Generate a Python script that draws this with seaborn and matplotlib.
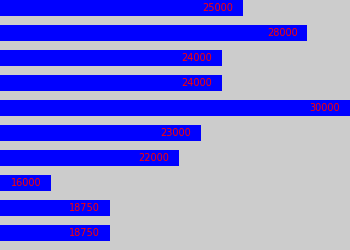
import matplotlib
matplotlib.use("Agg")
import matplotlib.pyplot as plt
import seaborn as sns
import pandas as pd

categories = ["A", "B", "C", "D", "E", "F", "G", "H", "I", "J"]
values = [25000, 28000, 24000, 24000, 30000, 23000, 22000, 16000, 18750, 18750]
labels = ["25000", "28000", "24000", "24000", "30000", "23000", "22000", "16000", "18750", "18750"]

df = pd.DataFrame({"cat": categories, "val": values})

fig = plt.figure(figsize=(3.5, 2.5), dpi=100)
fig.patch.set_facecolor("#cccccc")
ax = fig.add_axes([0, 0, 1, 1])
ax.set_facecolor("#cccccc")

sns.barplot(data=df, x="val", y="cat", orient="h", color="#0000ff",
            saturation=1, width=0.64, ax=ax)
for p in ax.patches:
    p.set_edgecolor("none")
    p.set_linewidth(0)

ax.set_xlim(13610, 30000)
ax.set_ylim(9.68, -0.32)
ax.set_xticks([])
ax.set_yticks([])
ax.set_xlabel("")
ax.set_ylabel("")
for s in ax.spines.values():
    s.set_visible(False)

for i, (v, lab) in enumerate(zip(values, labels)):
    ax.annotate(lab, xy=(v, i), xytext=(-7, 0), textcoords="offset points",
                ha="right", va="center", color="#ff0000", fontsize=7,
                family="DejaVu Sans")

fig.savefig("out.png", dpi=100, facecolor="#cccccc")
